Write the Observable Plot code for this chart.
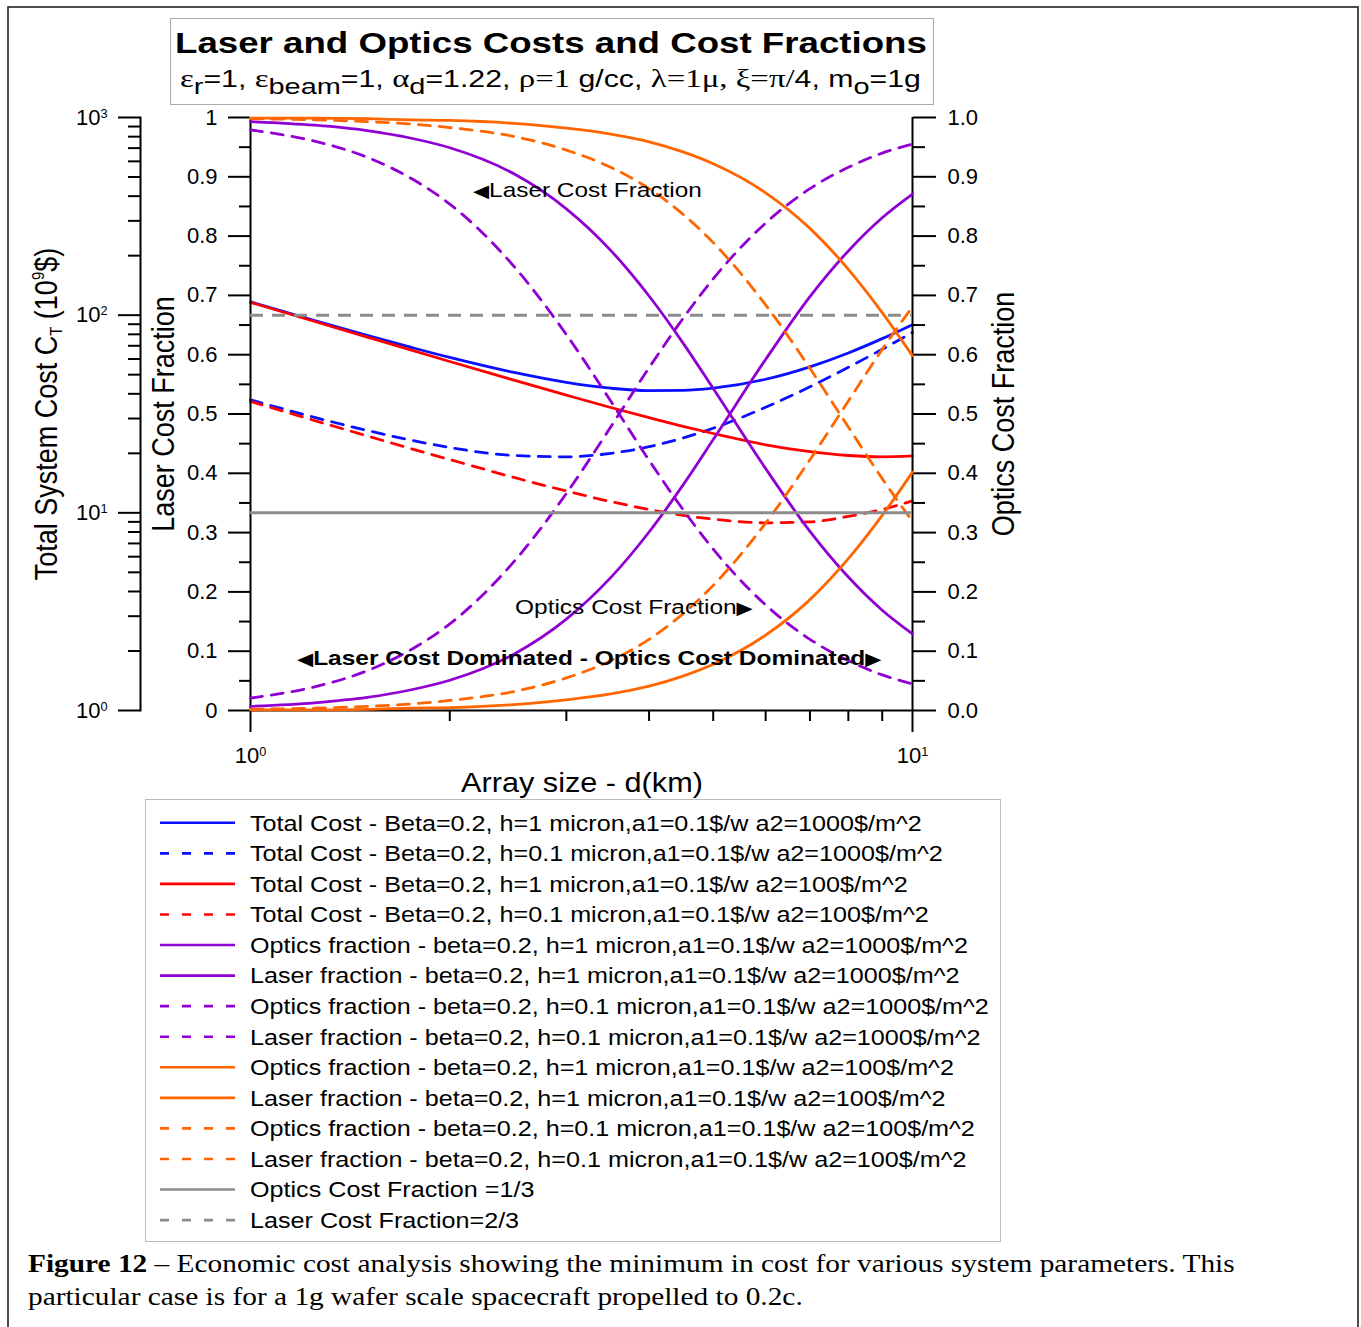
<!DOCTYPE html>
<html>
<head>
<meta charset="utf-8">
<script src="https://cdn.jsdelivr.net/npm/d3@7"></script>
<script src="https://cdn.jsdelivr.net/npm/@observablehq/plot@0.6"></script>
<style>
html,body{margin:0;padding:0;background:#fff;overflow:hidden;}
#page{position:relative;width:1361px;height:1327px;overflow:hidden;background:#fff;}
#page > svg{position:absolute;left:0;top:0;margin:0;}
</style>
</head>
<body>
<div id="page"></div>
<script>
// ---------------- data ----------------
const arraySizeKm = [1, 1.25, 1.5, 1.75, 2, 2.5, 3, 3.5, 4, 4.5, 5, 6, 7, 8, 9, 10];

// total system cost (10^9 $), log axis
const totalCostH1A1000  = [116.8, 94.0, 79.1, 68.7, 61.1, 51.3, 45.7, 42.7, 41.5, 41.6, 42.7, 47.4, 54.8, 64.4, 76.1, 89.6];
const totalCostH01A1000 = [37.3, 30.4, 26.1, 23.3, 21.4, 19.5, 19.2, 20.0, 21.6, 23.9, 26.8, 34.2, 43.4, 54.5, 67.2, 81.7];
const totalCostH1A100   = [116.1, 92.9, 77.5, 66.5, 58.3, 46.9, 39.4, 34.1, 30.3, 27.4, 25.2, 22.1, 20.4, 19.5, 19.2, 19.4];
const totalCostH01A100  = [36.6, 29.3, 24.5, 21.1, 18.6, 15.1, 12.9, 11.4, 10.4, 9.7, 9.3, 8.9, 9.0, 9.6, 10.4, 11.5];

// cost fractions
const opticsFracH1A1000  = [0.007, 0.013, 0.022, 0.035, 0.051, 0.095, 0.154, 0.224, 0.301, 0.380, 0.457, 0.592, 0.698, 0.775, 0.831, 0.871];
const laserFracH1A1000   = [0.993, 0.987, 0.978, 0.965, 0.949, 0.905, 0.846, 0.776, 0.699, 0.620, 0.543, 0.408, 0.302, 0.225, 0.169, 0.129];
const opticsFracH01A1000 = [0.021, 0.040, 0.067, 0.103, 0.146, 0.251, 0.366, 0.478, 0.578, 0.661, 0.728, 0.822, 0.880, 0.916, 0.940, 0.955];
const laserFracH01A1000  = [0.979, 0.960, 0.933, 0.897, 0.854, 0.749, 0.634, 0.522, 0.422, 0.339, 0.272, 0.178, 0.120, 0.084, 0.060, 0.045];
const opticsFracH1A100   = [0.001, 0.001, 0.002, 0.004, 0.005, 0.010, 0.018, 0.028, 0.041, 0.058, 0.078, 0.127, 0.187, 0.256, 0.329, 0.402];
const laserFracH1A100    = [0.999, 0.999, 0.998, 0.996, 0.995, 0.990, 0.982, 0.972, 0.959, 0.942, 0.922, 0.873, 0.813, 0.744, 0.671, 0.598];
const opticsFracH01A100  = [0.002, 0.004, 0.007, 0.011, 0.017, 0.032, 0.055, 0.084, 0.120, 0.163, 0.211, 0.316, 0.423, 0.522, 0.609, 0.681];
const laserFracH01A100   = [0.998, 0.996, 0.993, 0.989, 0.983, 0.968, 0.945, 0.916, 0.880, 0.837, 0.789, 0.684, 0.577, 0.478, 0.391, 0.319];

const opticsRefFraction = 1 / 3;
const laserRefFraction = 2 / 3;

// ticks
const costMajorTicks = [1, 10, 100, 1000];
const costMinorTicks = [2, 3, 4, 5, 6, 7, 8, 9, 20, 30, 40, 50, 60, 70, 80, 90, 200, 300, 400, 500, 600, 700, 800, 900];
const fracMajorTicks = [0, 0.1, 0.2, 0.3, 0.4, 0.5, 0.6, 0.7, 0.8, 0.9, 1];
const fracMinorTicks = [0.05, 0.15, 0.25, 0.35, 0.45, 0.55, 0.65, 0.75, 0.85, 0.95];
const xMajorTicks = [1, 10];
const xMinorTicks = [2, 3, 4, 5, 6, 7, 8, 9];

const legendLabels = [
  "Total Cost - Beta=0.2, h=1 micron,a1=0.1$/w a2=1000$/m^2",
  "Total Cost - Beta=0.2, h=0.1 micron,a1=0.1$/w a2=1000$/m^2",
  "Total Cost - Beta=0.2, h=1 micron,a1=0.1$/w a2=100$/m^2",
  "Total Cost - Beta=0.2, h=0.1 micron,a1=0.1$/w a2=100$/m^2",
  "Optics fraction - beta=0.2, h=1 micron,a1=0.1$/w a2=1000$/m^2",
  "Laser fraction - beta=0.2, h=1 micron,a1=0.1$/w a2=1000$/m^2",
  "Optics fraction - beta=0.2, h=0.1 micron,a1=0.1$/w a2=1000$/m^2",
  "Laser fraction - beta=0.2, h=0.1 micron,a1=0.1$/w a2=1000$/m^2",
  "Optics fraction - beta=0.2, h=1 micron,a1=0.1$/w a2=100$/m^2",
  "Laser fraction - beta=0.2, h=1 micron,a1=0.1$/w a2=100$/m^2",
  "Optics fraction - beta=0.2, h=0.1 micron,a1=0.1$/w a2=100$/m^2",
  "Laser fraction - beta=0.2, h=0.1 micron,a1=0.1$/w a2=100$/m^2",
  "Optics Cost Fraction =1/3",
  "Laser Cost Fraction=2/3"
];

// ---------------- styles ----------------
const W = 1361, H = 1327, PH = 800;
const SANS = "Liberation Sans, Arial, Helvetica, sans-serif";
const SERIF = "'Liberation Serif', 'Times New Roman', serif";
const BLUE = "#0a10ff", RED = "#ff0000", PURPLE = "#9000d2", ORANGE = "#ff6600", GRAY = "#8c8c8c";
const DASH = "12,9";

const costSeries = [
  {values: totalCostH1A1000, color: BLUE, dashed: false},
  {values: totalCostH01A1000, color: BLUE, dashed: true},
  {values: totalCostH1A100, color: RED, dashed: false},
  {values: totalCostH01A100, color: RED, dashed: true}
];
const fracSeries = [
  {values: opticsFracH1A1000, color: PURPLE, dashed: false},
  {values: laserFracH1A1000, color: PURPLE, dashed: false},
  {values: opticsFracH01A1000, color: PURPLE, dashed: true},
  {values: laserFracH01A1000, color: PURPLE, dashed: true},
  {values: opticsFracH1A100, color: ORANGE, dashed: false},
  {values: laserFracH1A100, color: ORANGE, dashed: false},
  {values: opticsFracH01A100, color: ORANGE, dashed: true},
  {values: laserFracH01A100, color: ORANGE, dashed: true}
];
const refSeries = [
  {value: opticsRefFraction, color: GRAY, dashed: false},
  {value: laserRefFraction, color: GRAY, dashed: true}
];

const rowsOf = s => arraySizeKm.map((d, i) => ({d, v: s.values[i]}));
const lineMark = s => Plot.line(rowsOf(s), {
  x: "d", y: "v", stroke: s.color, strokeWidth: 2.8,
  strokeDasharray: s.dashed ? DASH : undefined, curve: "monotone-x"
});
const powLabel = d => "10^" + Math.round(Math.log10(d));
const plotStyle = {background: "none", fontFamily: SANS, fontSize: "22px", overflow: "visible", color: "#000"};

const page = document.getElementById("page");

// ---------------- decoration layer (bottom) ----------------
const deco = d3.create("svg").attr("width", W).attr("height", H)
  .attr("font-family", SANS).style("position", "absolute").style("left", 0).style("top", 0);
page.appendChild(deco.node());

deco.append("rect").attr("x", 8).attr("y", 7).attr("width", 1350).attr("height", 1400)
  .attr("fill", "none").attr("stroke", "#222").attr("stroke-width", 1.6);
deco.append("rect").attr("x", 170.5).attr("y", 18.5).attr("width", 763).attr("height", 86)
  .attr("fill", "none").attr("stroke", "#aaa").attr("stroke-width", 1);
deco.append("rect").attr("x", 145.5).attr("y", 799.5).attr("width", 855).attr("height", 442)
  .attr("fill", "none").attr("stroke", "#bbb").attr("stroke-width", 1);

function fitX(sel, x0, target) {
  const w = sel.node().getBBox().width;
  const s = target / w;
  sel.attr("transform", `translate(${x0},0) scale(${s},1) translate(${-x0},0)`);
  return s;
}
function appendParts(textSel, parts) {
  let shift = 0;
  for (const p of parts) {
    const ts = textSel.append("tspan").text(p.t);
    const target = p.shift || 0;
    if (target !== shift) { ts.attr("dy", target - shift); shift = target; }
    if (p.font) ts.style("font-family", p.font);
    if (p.size) ts.attr("font-size", p.size);
    if (p.weight) ts.attr("font-weight", p.weight);
  }
}

// title
const title = deco.append("text").attr("x", 175).attr("y", 53).attr("font-size", 30)
  .attr("font-weight", "bold").text("Laser and Optics Costs and Cost Fractions");
fitX(title, 175, 752);

// subtitle
const sub = deco.append("text").attr("x", 180).attr("y", 87).attr("font-size", 23);
appendParts(sub, [
  {t: "ε", font: SERIF, size: 25}, {t: "r", shift: 7, size: 22}, {t: "=1, "},
  {t: "ε", font: SERIF, size: 25}, {t: "beam", shift: 7, size: 22}, {t: "=1, "},
  {t: "α", font: SERIF, size: 25}, {t: "d", shift: 7, size: 22}, {t: "=1.22, "},
  {t: "ρ=1", font: SERIF, size: 25}, {t: " g/cc, "},
  {t: "λ=1μ, ξ=π/", font: SERIF, size: 25}, {t: "4, m"},
  {t: "o", shift: 7, size: 22}, {t: "=1g"}
]);
fitX(sub, 180, 741);

// axis titles
function vTitle(bx, cy, parts) {
  const t = deco.append("text").attr("text-anchor", "middle").attr("font-size", 27)
    .attr("transform", `translate(${bx},${cy}) rotate(-90) scale(1,1.15)`);
  appendParts(t, parts);
  return t;
}
vTitle(57, 414, [{t: "Total System Cost C"}, {t: "T", shift: 4, size: 15}, {t: " (10", shift: 0},
  {t: "9", shift: -11, size: 15}, {t: "$)", shift: 0}]);
vTitle(174, 414, [{t: "Laser Cost Fraction"}]);
vTitle(1014, 414, [{t: "Optics Cost Fraction"}]);
const xTitle = deco.append("text").attr("x", 582).attr("y", 792).attr("text-anchor", "middle")
  .attr("font-size", 27).text("Array size - d(km)");
fitX(xTitle, 582, 242);

// legend
const allSeries = [...costSeries, ...fracSeries, ...refSeries];
const legendG = deco.append("g");
legendLabels.forEach((label, i) => {
  const s = allSeries[i];
  const yl = 822.8 + 30.56 * i;
  legendG.append("line").attr("x1", 160).attr("x2", 235).attr("y1", yl).attr("y2", yl)
    .attr("stroke", s.color).attr("stroke-width", 2.6)
    .attr("stroke-dasharray", s.dashed ? "9,13" : null);
});
const legendTexts = legendLabels.map((label, i) =>
  legendG.append("text").attr("x", 250).attr("y", 830.7 + 30.56 * i).attr("font-size", 22).text(label));
const legendScale = 672 / legendTexts[0].node().getBBox().width;
legendTexts.forEach(t => t.attr("transform", `translate(250,0) scale(${legendScale},1) translate(-250,0)`));

// caption
const cap1 = deco.append("text").attr("x", 28).attr("y", 1272).style("font-family", SERIF).attr("font-size", 26);
appendParts(cap1, [{t: "Figure 12", weight: "bold"},
  {t: " – Economic cost analysis showing the minimum in cost for various system parameters. This"}]);
const capScale = fitX(cap1, 28, 1207);
deco.append("text").attr("x", 28).attr("y", 1305).style("font-family", SERIF).attr("font-size", 26)
  .text("particular case is for a 1g wafer scale spacecraft propelled to 0.2c.")
  .attr("transform", `translate(28,0) scale(${capScale},1) translate(-28,0)`);

// ---------------- cost plot (log axis) ----------------
const costPlot = Plot.plot({
  width: W, height: PH, marginLeft: 140, marginRight: 449, marginTop: 117, marginBottom: 90,
  x: {type: "log", domain: [1, 10], range: [250, 912], axis: null},
  y: {type: "log", domain: [1, 1000]},
  style: plotStyle,
  marks: [
    Plot.frame({anchor: "left", stroke: "#000", strokeWidth: 2}),
    Plot.axisY(costMajorTicks, {anchor: "left", tickSize: 22, tickPadding: 11, strokeWidth: 2,
      tickFormat: powLabel, label: null, fontSize: 22}),
    Plot.axisY(costMinorTicks, {anchor: "left", tickSize: 12, strokeWidth: 2, tickFormat: () => "", label: null}),
    ...costSeries.map(lineMark)
  ]
});

// ---------------- fraction plot ----------------
const fracPlot = Plot.plot({
  width: W, height: PH, marginLeft: 250, marginRight: 449, marginTop: 117, marginBottom: 90,
  x: {type: "log", domain: [1, 10]},
  y: {domain: [0, 1]},
  style: plotStyle,
  marks: [
    Plot.ruleX(xMajorTicks, {stroke: "#000", strokeWidth: 2}),
    Plot.ruleY([0], {stroke: "#000", strokeWidth: 2}),
    Plot.axisY(fracMajorTicks, {anchor: "left", tickSize: 22, tickPadding: 11, strokeWidth: 2, label: null,
      tickFormat: d => d === 0 ? "0" : d === 1 ? "1" : d.toFixed(1), fontSize: 22}),
    Plot.axisY(fracMinorTicks, {anchor: "left", tickSize: 11, strokeWidth: 2, tickFormat: () => "", label: null}),
    Plot.axisY(fracMajorTicks, {anchor: "right", tickSize: 23, tickPadding: 12, strokeWidth: 2, label: null,
      tickFormat: d => d.toFixed(1), fontSize: 22}),
    Plot.axisY(fracMinorTicks, {anchor: "right", tickSize: 12, strokeWidth: 2, tickFormat: () => "", label: null}),
    Plot.axisX(xMajorTicks, {anchor: "bottom", tickSize: 22, tickPadding: 15, strokeWidth: 2, label: null,
      tickFormat: powLabel, fontSize: 22}),
    Plot.axisX(xMinorTicks, {anchor: "bottom", tickSize: 11, strokeWidth: 2, tickFormat: () => "", label: null}),
    ...fracSeries.map(lineMark),
    Plot.ruleY([refSeries[0].value], {stroke: GRAY, strokeWidth: 3}),
    Plot.ruleY([refSeries[1].value], {stroke: GRAY, strokeWidth: 3, strokeDasharray: "13,9"})
  ]
});

function superscriptify(svg) {
  d3.select(svg).selectAll("text").each(function () {
    const m = /^(.*)\^(\d+)$/.exec(this.textContent);
    if (!m) return;
    const sel = d3.select(this);
    sel.text(null);
    sel.append("tspan").text(m[1]);
    sel.append("tspan").attr("dy", "-0.55em").attr("font-size", "0.58em").text(m[2]);
  });
}
superscriptify(costPlot);
superscriptify(fracPlot);
page.appendChild(costPlot);
page.appendChild(fracPlot);

// ---------------- annotations (top) ----------------
const annoLayer = d3.create("svg").attr("width", W).attr("height", H).attr("font-family", SANS)
  .style("position", "absolute").style("left", 0).style("top", 0).style("pointer-events", "none");
page.appendChild(annoLayer.node());
function note(x, y, target, parts, weight) {
  const t = annoLayer.append("text").attr("x", x).attr("y", y).attr("font-size", 21);
  if (weight) t.attr("font-weight", weight);
  appendParts(t, parts);
  fitX(t, x, target);
}
const TRI = "'DejaVu Sans', sans-serif";
note(473, 197, 229, [{t: "◀", font: TRI, size: 18}, {t: "Laser Cost Fraction"}]);
note(515, 614, 238, [{t: "Optics Cost Fraction"}, {t: "▶", font: TRI, size: 18}]);
note(297, 665, 585, [{t: "◀", font: TRI, size: 18}, {t: "Laser Cost Dominated - Optics Cost Dominated"},
  {t: "▶", font: TRI, size: 18}], "bold");
</script>
</body>
</html>
